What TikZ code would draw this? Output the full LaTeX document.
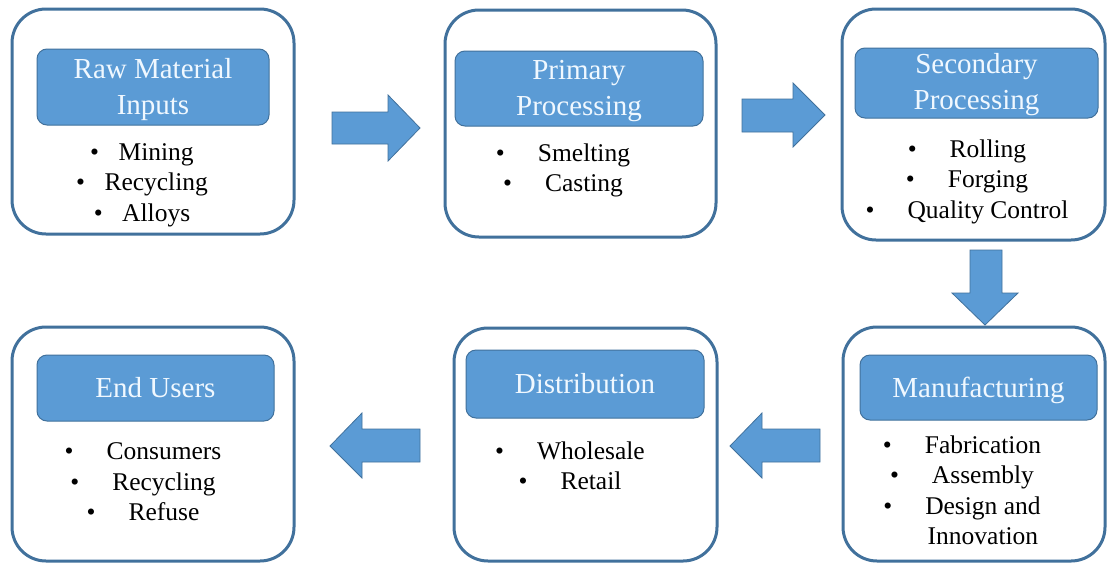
\documentclass[tikz,border=0pt]{standalone}
\usepackage{fontspec}
\setmainfont{Liberation Serif}
\definecolor{edgeblue}{RGB}{65,113,156}
\definecolor{fillblue}{RGB}{91,155,213}
\definecolor{titletext}{RGB}{240,248,255}
\newcommand{\bulgap}[1]{\textbullet\hspace{#1}}
\begin{document}
\begin{tikzpicture}[x=1pt,y=-1pt,
  outerbox/.style={draw=edgeblue, line width=3pt, rounded corners=34pt, fill=white, inner sep=0pt},
  titlebox/.style={draw=edgeblue, line width=1pt, fill=fillblue, rounded corners=10pt},
  titletxt/.style={text=titletext, font=\fontsize{29}{36}\selectfont, align=center, inner sep=0pt},
  items/.style={font=\fontsize{25.5}{30.5}\selectfont, align=center, inner sep=0pt, text=black},
  blockarrow/.style={fill=fillblue, draw=edgeblue, line width=0.8pt, line join=miter}]
\useasboundingbox (0,0) rectangle (1107,565);
\fill[white] (0,0) rectangle (1107,565);

% outer boxes
\node[outerbox, minimum width=282pt, minimum height=225pt] (b1) at (153,121.5) {};
\node[outerbox, minimum width=271pt, minimum height=227pt] (b2) at (580.5,123.5) {};
\node[outerbox, minimum width=263pt, minimum height=231pt] (b3) at (973.5,124.5) {};
\node[outerbox, minimum width=282pt, minimum height=234pt] (b4) at (153,444) {};
\node[outerbox, minimum width=263pt, minimum height=233pt] (b5) at (585.5,444.5) {};
\node[outerbox, minimum width=262pt, minimum height=234pt] (b6) at (974,444) {};

% title boxes
\node[titlebox, minimum width=232pt, minimum height=76pt] (t1) at (153,87) {};
\node[titlebox, minimum width=248pt, minimum height=75pt] (t2) at (579,88.5) {};
\node[titlebox, minimum width=243pt, minimum height=70pt] (t3) at (976.5,83) {};
\node[titlebox, minimum width=237pt, minimum height=66pt] (t4) at (155.5,388) {};
\node[titlebox, minimum width=238pt, minimum height=68pt] (t5) at (585,384) {};
\node[titlebox, minimum width=237pt, minimum height=65pt] (t6) at (978.5,387.5) {};

% title texts
\node[titletxt] (l1) at (153,90) {Raw Material\\Inputs};
\node[titletxt] (l2) at (579,91.5) {Primary\\Processing};
\node[titletxt] (l3) at (976.5,85) {Secondary\\Processing};
\node[titletxt] (l4) at (155.5,388) {End Users};
\node[titletxt] (l5) at (585,384) {Distribution};
\node[titletxt] (l6) at (978.5,390) {Manufacturing};

% bullet lists
\node[items] (i1) at (142,185) {\bulgap{19.5pt}Mining\\\bulgap{19.5pt}Recycling\\\bulgap{19.5pt}Alloys};
\node[items] (i2) at (563,170.5) {\bulgap{33pt}Smelting\\\bulgap{33pt}Casting};
\node[items] (i3) at (967,181.5) {\bulgap{33pt}Rolling\\\bulgap{33pt}Forging\\\bulgap{33pt}Quality Control};
\node[items] (i4) at (143,482) {\bulgap{33pt}Consumers\\\bulgap{33pt}Recycling\\\bulgap{33pt}Refuse};
\node[items] (i5) at (570,466) {\bulgap{33pt}Wholesale\\\bulgap{33pt}Retail};
\node[items] (i6) at (962,490.5) {\bulgap{33pt}Fabrication\\\bulgap{33pt}Assembly\\\bulgap{33pt}Design and\\\phantom{\textbullet}\hspace{33pt}Innovation};

% block arrows
\draw[blockarrow] (332,112) -- (388,112) -- (388,95) -- (420,128) -- (388,161) -- (388,144) -- (332,144) -- cycle;
\draw[blockarrow] (742,99) -- (793,99) -- (793,83) -- (825,115) -- (793,147) -- (793,132) -- (742,132) -- cycle;
\draw[blockarrow] (970,250) -- (1002,250) -- (1002,293) -- (1018,293) -- (985,325) -- (952,293) -- (970,293) -- cycle;
\draw[blockarrow] (820,429) -- (762,429) -- (762,413) -- (730,446) -- (762,478) -- (762,462) -- (820,462) -- cycle;
\draw[blockarrow] (420,429) -- (362,429) -- (362,413) -- (330,446) -- (362,478) -- (362,462) -- (420,462) -- cycle;
\end{tikzpicture}
\end{document}
